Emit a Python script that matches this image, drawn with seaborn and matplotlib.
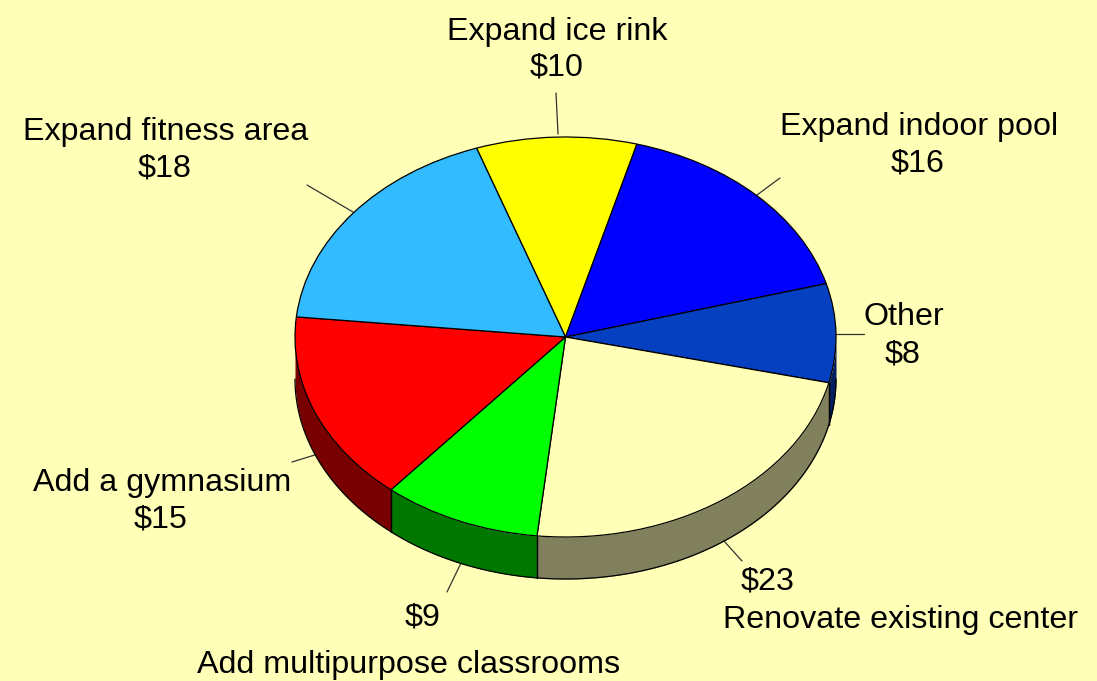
import numpy as np
import matplotlib
matplotlib.use("Agg")
import matplotlib.pyplot as plt
import seaborn as sns

categories = ["Expand ice rink", "Expand indoor pool", "Other", "Renovate existing center",
              "Add multipurpose classrooms", "Add a gymnasium", "Expand fitness area"]
values = [9.5, 16.3, 7.9, 22.8, 9.4, 15.3, 17.9]
top_colors = ["#FFFF00", "#0000FF", "#0440C0", "#FFFFB8", "#00FF00", "#FF0000", "#33BBFF"]
side_colors = ["#808000", "#000080", "#022060", "#80805C", "#007800", "#780000", "#1A5E80"]
BG = "#FFFFB8"
START_ANGLE = 109.2
W, H = 1097, 681
CX, CY, RX, RY, DEPTH = 565.5, 337, 270.5, 200, 42

sns.set_style("white")
plt.rcParams["font.family"] = ["Liberation Sans", "DejaVu Sans"]
fig = plt.figure(figsize=(W / 100, H / 100), dpi=100, facecolor=BG)
ax = fig.add_axes([0, 0, 1, 1], facecolor=BG)

d = DEPTH / RY
angles = START_ANGLE - np.cumsum([0] + values) / sum(values) * 360
for i in range(len(values)):
    a0, a1 = angles[i], angles[i + 1]
    lo, hi = max(a1, -180), min(a0, 0)
    if hi > lo:
        t = np.radians(np.linspace(lo, hi, 80))
        xs = np.cos(t)
        ys = np.sin(t)
        ax.fill_between(xs, ys - d, ys, color=side_colors[i], lw=0, zorder=1)
        ax.plot(xs, ys - d, color="black", lw=0.9, zorder=2)
        for tv in (lo, hi):
            if tv not in (0, -180):
                r = np.radians(tv)
                ax.plot([np.cos(r)] * 2, [np.sin(r), np.sin(r) - d], color="black", lw=0.9, zorder=2)

wedges, _ = ax.pie(values, colors=top_colors, startangle=START_ANGLE, counterclock=False, radius=1,
                   wedgeprops=dict(edgecolor="black", linewidth=0.9, zorder=3))
ax.set_aspect("auto")
ax.set_xlim(-CX / RX, (W - CX) / RX)
ax.set_ylim(-(H - CY) / RY, CY / RY)
ax.axis("off")

def P(px, py):
    return (px - CX) / RX, (CY - py) / RY

leaders = [((558, 134), (556, 93)), ((757, 195), (780, 178)), ((836, 334), (864, 334)),
           ((724, 541), (742, 561)), ((461, 563), (447, 592)), ((318, 454), (292, 462)), ((353, 212), (307, 185))]
for a, b in leaders:
    ax.plot(*zip(P(*a), P(*b)), color="#333333", lw=0.9, zorder=0.5)

money = [f"${v:.0f}" for v in values]
labels = [
    (557, 32, categories[0]), (557, 67, money[0]),
    (919, 127, categories[1]), (918, 163, money[1]),
    (904, 317, categories[2]), (903, 354, money[2]),
    (768, 581, money[3]), (900.5, 620, categories[3]),
    (423, 617, money[4]), (409, 665, categories[4]),
    (162, 483, categories[5]), (161, 519, money[5]),
    (166, 132, categories[6]), (165, 168, money[6]),
]
for px, py, s in labels:
    ax.text(*P(px, py), s, ha="center", va="center", fontsize=23.2, color="black", zorder=5)

fig.savefig("out.png", dpi=100, facecolor=BG)
